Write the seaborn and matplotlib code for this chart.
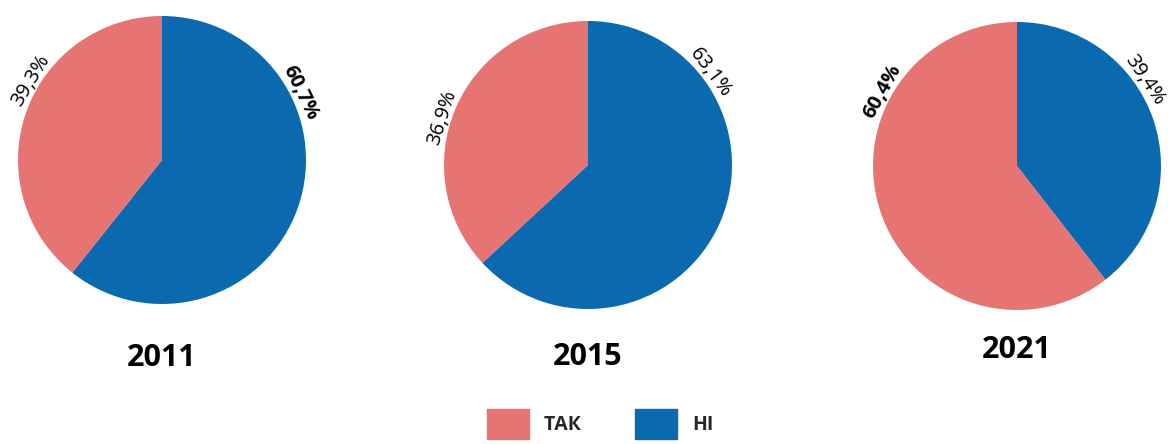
import numpy as np
import matplotlib
matplotlib.use("Agg")
import matplotlib.pyplot as plt
import seaborn as sns

# dados
anos = ["2011", "2015", "2021"]
tak = [39.3, 36.9, 60.4]
ni = [60.7, 63.1, 39.4]
categorias = ["ТАК", "НІ"]

sns.set_theme(style="white")
plt.rcParams["font.family"] = ["Open Sans", "DejaVu Sans"]

cores = {"ТАК": "#e57472", "НІ": "#0b69b0"}

W, H = 1168, 444
fig = plt.figure(figsize=(W / 100, H / 100), dpi=100)

# centro (px), raio (px) de cada pizza
centros = [(162, 160), (588, 165), (1017, 166)]
raio = 144
# angulo dos rótulos (graus) [ТАК, НІ]
ang_rotulos = [(149, 26), (162, 37), (151, 34)]
# rótulos em negrito no original [ТАК, НІ]
negrito = [(False, True), (False, False), (True, False)]
y_anos = [358, 357, 350]

for i, ano in enumerate(anos):
    cx, cy = centros[i]
    ax = fig.add_axes([(cx - raio) / W, (H - cy - raio) / H, 2 * raio / W, 2 * raio / H])
    vals = [ni[i], tak[i]]
    ax.pie(vals, colors=[cores["НІ"], cores["ТАК"]], startangle=90,
           counterclock=False, radius=1, wedgeprops=dict(linewidth=0))
    ax.set_xlim(-1, 1)
    ax.set_ylim(-1, 1)
    ax.set_aspect("equal")
    ax.axis("off")

    valores = [tak[i], ni[i]]
    for v, ang, b in zip(valores, ang_rotulos[i], negrito[i]):
        a = np.deg2rad(ang)
        r = 1.065
        txt = f"{v:.1f}%".replace(".", ",")
        ax.text(r * np.cos(a), r * np.sin(a), txt, rotation=ang - 90,
                rotation_mode="anchor", ha="center", va="center",
                fontsize=14.5, fontweight="bold" if b else "normal",
                color="black", clip_on=False)

    fig.text(cx / W, 1 - y_anos[i] / H, ano, ha="center", va="center",
             fontsize=22, fontweight="bold", color="black")

handles = [plt.Rectangle((0, 0), 1, 1, color=cores[c]) for c in categorias]
leg = fig.legend(handles, categorias, loc="center", bbox_to_anchor=(600 / W, 1 - 424 / H),
                 ncol=2, frameon=False, fontsize=14, handlelength=2.15, handleheight=1.95,
                 handletextpad=0.75, columnspacing=2.8, borderpad=0, borderaxespad=0)
for t in leg.get_texts():
    t.set_fontweight("bold")

fig.savefig("out.png", dpi=100)
